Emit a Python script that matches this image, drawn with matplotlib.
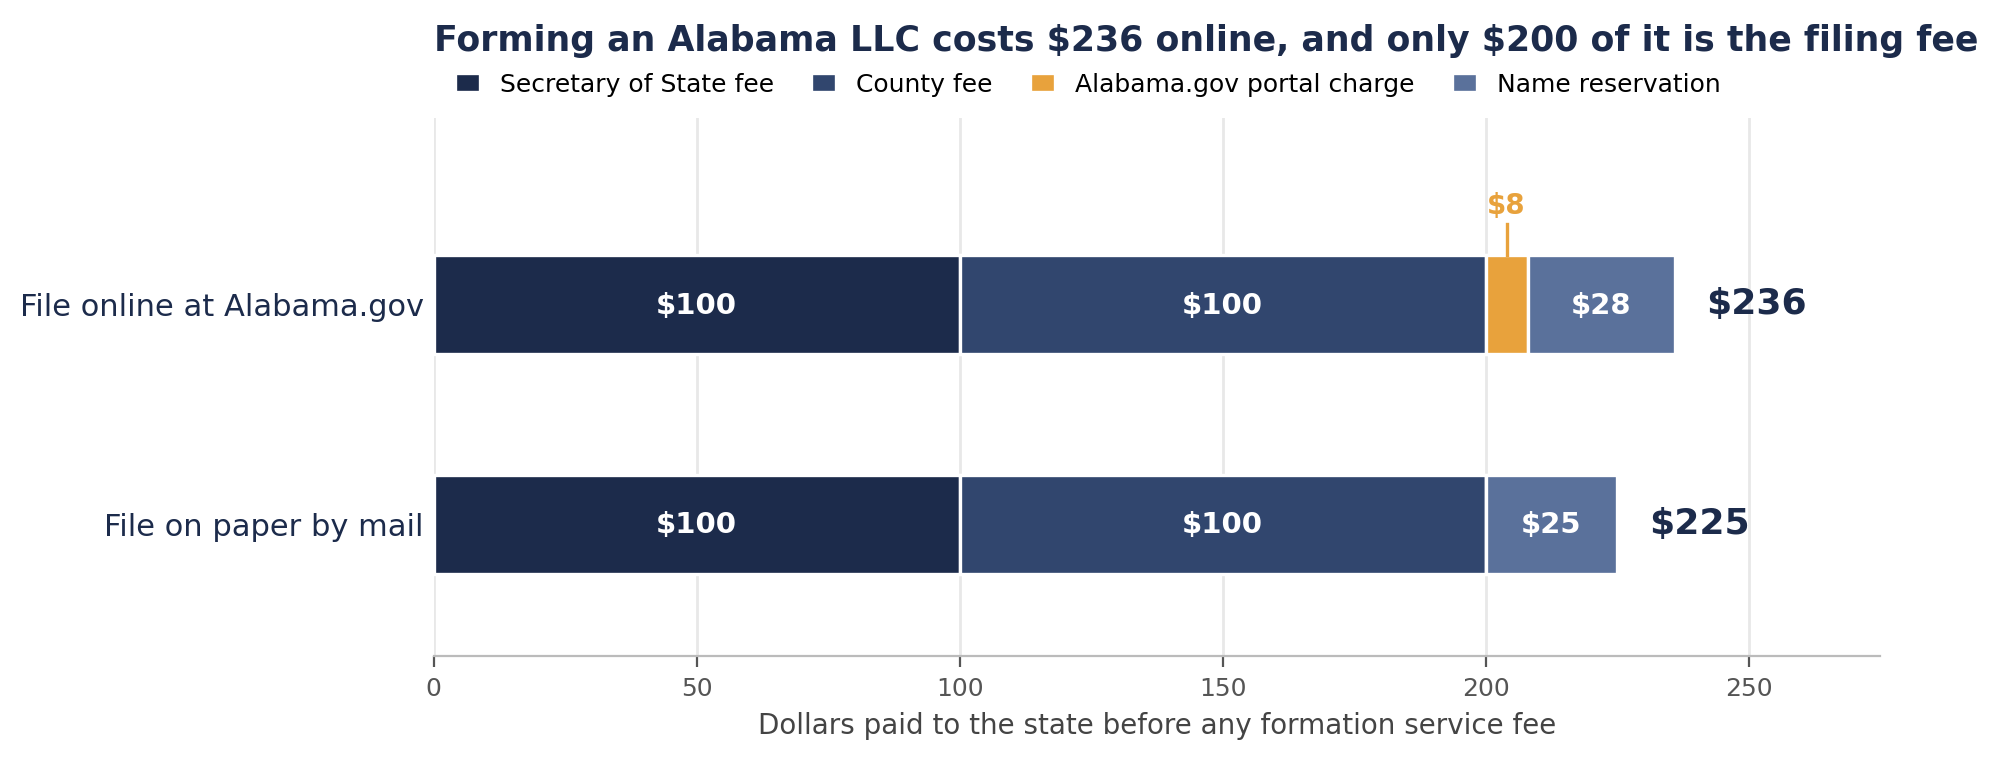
import matplotlib.pyplot as plt
import numpy as np

# values
methods = ['File on paper by mail', 'File online at Alabama.gov']
components = ['Secretary of State fee', 'County fee', 'Alabama.gov portal charge', 'Name reservation']
sos_fee = [100, 100]
county_fee = [100, 100]
portal_fee = [0, 8]
name_res = [25, 28]
colors = ['#1c2b4b', '#31466e', '#e8a23c', '#5a719b']

series = [sos_fee, county_fee, portal_fee, name_res]
totals = np.sum(series, axis=0)
ypos = np.arange(len(methods))

fig, ax = plt.subplots(figsize=(9.99, 3.8), dpi=200)
left = np.zeros(len(methods))
for name, vals, col in zip(components, series, colors):
    vals = np.array(vals, dtype=float)
    bars = ax.barh(ypos, vals, left=left, height=0.45, color=col,
                   edgecolor='white', linewidth=1.2, label=name, zorder=3)
    for b, v, l in zip(bars, vals, left):
        if v >= 20:
            ax.text(l + v / 2, b.get_y() + b.get_height() / 2 - 0.005, f'\\${v:.0f}',
                    ha='center', va='center', color='white',
                    fontsize=10.5, fontweight='bold', zorder=4)
        elif v > 0:
            # small segment gets a callout above the bar
            xc = l + v / 2
            top = b.get_y() + b.get_height()
            ax.plot([xc, xc], [top, top + 0.14], color=col, lw=1.2, zorder=4)
            ax.text(xc, top + 0.16, f'\\${v:.0f}', ha='center', va='bottom',
                    color=col, fontsize=10, fontweight='bold')
    left += vals

for y, t in zip(ypos, totals):
    ax.text(t + 6, y, f'\\${t}', ha='left', va='center', color='#1c2b4b',
            fontsize=13, fontweight='bold')

ax.set_xlim(0, 275)
ax.set_ylim(-0.6, 1.85)
ax.set_yticks(ypos)
ax.set_yticklabels(methods, fontsize=11, color='#1c2b4b')
ax.tick_params(axis='y', length=0)
ax.tick_params(axis='x', labelsize=9, colors='#555555', length=4)
ax.set_xticks([0, 50, 100, 150, 200, 250])
ax.set_xlabel('Dollars paid to the state before any formation service fee',
              fontsize=10, color='#444444')
ax.grid(axis='x', color='#e8e8e8', lw=1, zorder=0)
for s in ['top', 'right', 'left']:
    ax.spines[s].set_visible(False)
ax.spines['bottom'].set_color('#bbbbbb')

ax.set_title('Forming an Alabama LLC costs \\$236 online, and only \\$200 of it is the filing fee',
             loc='left', fontsize=12.5, fontweight='bold', color='#1c2b4b', pad=24)
ax.legend(loc='lower left', bbox_to_anchor=(0, 1.0), ncol=4, frameon=False,
          fontsize=9, handlelength=1.0, handleheight=0.8, columnspacing=1.5,
          borderaxespad=0.45)

fig.subplots_adjust(left=0.217, right=0.941, top=0.845, bottom=0.137)
fig.savefig('out.png', dpi=200)
